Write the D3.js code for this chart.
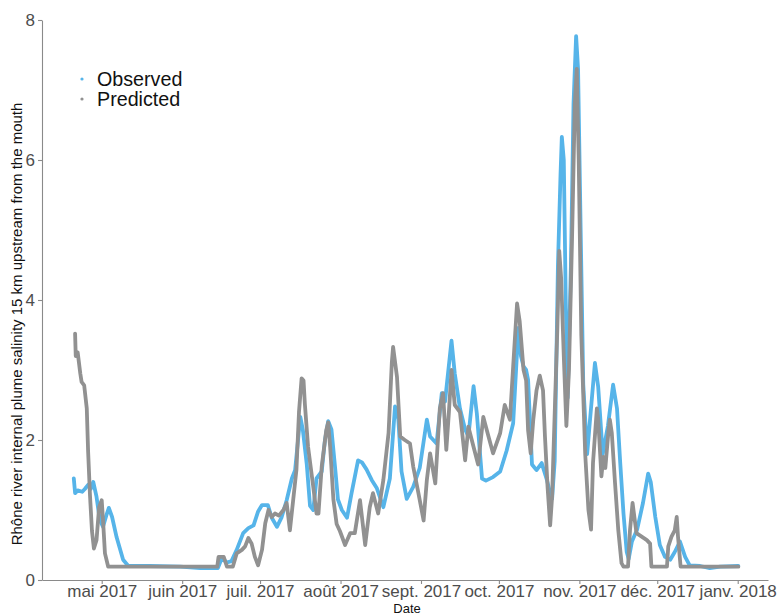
<!DOCTYPE html>
<html><head><meta charset="utf-8">
<script src="https://cdn.jsdelivr.net/npm/d3@7"></script>
<style>body{margin:0;background:#fff}svg{display:block}</style>
</head><body>
<svg id="c" width="777" height="615"></svg>
<script>
// ---- data ----
const obsDates = ["2017-04-20 06","2017-04-20 18","2017-04-21 18","2017-04-23 12","2017-04-24 12","2017-04-25 18","2017-04-26 18","2017-04-27 18","2017-04-29 00","2017-04-30 06",
"2017-05-01 12","2017-05-02 18","2017-05-03 18","2017-05-05 00","2017-05-06 18","2017-05-09 06","2017-05-11 06","2017-05-19 12","2017-05-31 06","2017-06-08 00",
"2017-06-14 18","2017-06-16 06","2017-06-18 06","2017-06-20 00","2017-06-22 00","2017-06-24 12","2017-06-26 12","2017-06-28 12","2017-06-30 06","2017-07-01 18",
"2017-07-04 00","2017-07-05 12","2017-07-07 12","2017-07-09 06","2017-07-11 06","2017-07-13 06","2017-07-14 12","2017-07-16 12","2017-07-17 12","2017-07-19 00",
"2017-07-20 06","2017-07-21 12","2017-07-22 18","2017-07-24 18","2017-07-26 00","2017-07-27 06","2017-07-28 12","2017-07-30 00","2017-07-31 00","2017-08-01 12",
"2017-08-03 12","2017-08-05 06","2017-08-07 18","2017-08-09 06","2017-08-11 00","2017-08-13 00","2017-08-15 00","2017-08-17 12","2017-08-20 00","2017-08-22 00",
"2017-08-23 06","2017-08-24 12","2017-08-26 12","2017-08-29 00","2017-08-31 12","2017-09-03 06","2017-09-04 12","2017-09-07 00","2017-09-09 00","2017-09-10 06",
"2017-09-12 18","2017-09-14 00","2017-09-16 00","2017-09-18 00","2017-09-19 06","2017-09-21 06","2017-09-22 12","2017-09-24 12","2017-09-26 00","2017-09-28 18",
"2017-10-01 12","2017-10-04 00","2017-10-06 12","2017-10-08 12","2017-10-09 12","2017-10-10 12","2017-10-11 12","2017-10-12 06","2017-10-13 18","2017-10-15 12",
"2017-10-17 12","2017-10-19 12","2017-10-20 18","2017-10-21 12","2017-10-22 12","2017-10-23 18","2017-10-24 18","2017-10-25 06","2017-10-26 00","2017-10-26 18",
"2017-10-27 12","2017-10-28 18","2017-10-29 18","2017-10-30 18","2017-10-31 12","2017-11-01 12","2017-11-02 12","2017-11-04 00","2017-11-05 00","2017-11-07 00",
"2017-11-08 06","2017-11-10 00","2017-11-12 00","2017-11-14 00","2017-11-15 12","2017-11-16 18","2017-11-18 00","2017-11-19 06","2017-11-20 00","2017-11-21 06",
"2017-11-23 06","2017-11-25 12","2017-11-27 12","2017-11-28 12","2017-11-30 06","2017-12-02 00","2017-12-04 00","2017-12-06 00","2017-12-07 18","2017-12-09 18",
"2017-12-11 18","2017-12-13 12","2017-12-17 12","2017-12-21 06","2017-12-25 06","2018-01-01 06"];
const obsValues = [1.45,1.24,1.28,1.26,1.30,1.36,1.30,1.40,1.19,0.86,
0.76,0.92,1.03,0.90,0.61,0.29,0.20,0.20,0.19,0.17,
0.17,0.31,0.25,0.27,0.43,0.67,0.74,0.78,0.98,1.07,
1.07,0.89,0.76,0.89,1.14,1.45,1.57,2.33,2.14,1.65,
1.06,1.00,1.45,1.55,2.00,2.27,2.15,1.57,1.15,1.00,
0.89,1.24,1.71,1.68,1.58,1.43,1.31,1.04,1.45,2.48,
2.30,1.55,1.16,1.33,1.60,2.29,2.05,1.95,2.67,2.55,
3.42,2.95,2.45,2.15,2.05,2.77,2.38,1.45,1.42,1.47,
1.55,1.85,2.24,3.60,3.20,3.05,3.00,2.86,1.65,1.57,
1.67,1.43,1.24,1.16,1.70,4.50,5.80,6.33,6.00,4.00,
2.60,4.50,6.80,7.77,7.30,5.00,2.80,1.80,2.24,3.10,
2.76,1.80,2.20,2.79,2.45,1.67,0.95,0.40,0.30,0.55,
0.72,1.10,1.52,1.40,0.90,0.50,0.33,0.29,0.40,0.55,
0.33,0.21,0.20,0.17,0.19,0.20];

const predDates = ["2017-04-20 18","2017-04-21 00","2017-04-21 18","2017-04-22 18","2017-04-23 06","2017-04-24 06","2017-04-25 06","2017-04-25 18","2017-04-26 12","2017-04-27 06",
"2017-04-28 00","2017-04-29 00","2017-04-30 00","2017-05-01 00","2017-05-01 12","2017-05-02 06","2017-05-03 12","2017-05-19 12","2017-06-14 12","2017-06-15 00",
"2017-06-17 00","2017-06-18 06","2017-06-20 12","2017-06-22 00","2017-06-24 00","2017-06-25 06","2017-06-26 12","2017-06-27 18","2017-06-29 00","2017-06-30 06",
"2017-07-01 18","2017-07-03 00","2017-07-04 06","2017-07-05 12","2017-07-06 18","2017-07-08 06","2017-07-10 00","2017-07-11 06","2017-07-12 12","2017-07-13 18",
"2017-07-15 00","2017-07-16 00","2017-07-17 00","2017-07-17 18","2017-07-18 06","2017-07-19 12","2017-07-21 12","2017-07-22 18","2017-07-23 12","2017-07-24 18",
"2017-07-26 12","2017-07-27 06","2017-07-28 00","2017-07-29 06","2017-07-30 12","2017-07-31 18","2017-08-02 18","2017-08-04 18","2017-08-06 12","2017-08-08 12",
"2017-08-10 12","2017-08-12 06","2017-08-13 12","2017-08-15 12","2017-08-17 12","2017-08-19 12","2017-08-20 18","2017-08-21 06","2017-08-22 18","2017-08-24 00",
"2017-08-25 18","2017-08-27 18","2017-08-29 00","2017-08-31 00","2017-09-02 00","2017-09-03 06","2017-09-04 12","2017-09-06 12","2017-09-08 06","2017-09-09 12",
"2017-09-10 18","2017-09-11 18","2017-09-12 18","2017-09-14 00","2017-09-16 00","2017-09-18 00","2017-09-19 06","2017-09-21 06","2017-09-23 00","2017-09-25 00",
"2017-09-27 00","2017-09-28 18","2017-10-01 12","2017-10-03 06","2017-10-05 06","2017-10-06 12","2017-10-08 00","2017-10-09 00","2017-10-10 12","2017-10-11 12",
"2017-10-12 06","2017-10-13 06","2017-10-14 06","2017-10-15 12","2017-10-16 18","2017-10-18 00","2017-10-18 18","2017-10-19 18","2017-10-20 18","2017-10-21 12",
"2017-10-22 12","2017-10-23 12","2017-10-24 06","2017-10-25 00","2017-10-26 00","2017-10-27 00","2017-10-28 00","2017-10-29 06","2017-10-30 06","2017-10-31 00",
"2017-10-31 18","2017-11-01 18","2017-11-03 06","2017-11-04 12","2017-11-05 12","2017-11-06 06","2017-11-07 18","2017-11-08 06","2017-11-09 12","2017-11-10 06",
"2017-11-11 00","2017-11-12 06","2017-11-12 18","2017-11-13 12","2017-11-14 18","2017-11-16 00","2017-11-17 06","2017-11-18 00","2017-11-19 18","2017-11-20 12",
"2017-11-21 12","2017-11-22 12","2017-11-23 00","2017-11-25 00","2017-11-27 00","2017-11-28 06","2017-11-28 18","2017-12-04 18","2017-12-05 06","2017-12-06 12",
"2017-12-07 18","2017-12-08 12","2017-12-09 00","2017-12-10 00","2018-01-01 06"];
const predValues = [3.52,3.20,3.25,2.95,2.83,2.78,2.45,1.85,1.20,0.70,
0.45,0.57,1.04,1.14,0.86,0.38,0.19,0.19,0.19,0.33,
0.33,0.19,0.19,0.38,0.43,0.48,0.60,0.52,0.33,0.21,
0.43,0.81,1.00,0.90,0.95,0.92,1.00,1.10,0.71,1.14,
1.57,2.40,2.88,2.85,2.52,1.90,1.33,0.95,0.95,1.62,
2.14,2.25,1.90,1.15,0.80,0.70,0.50,0.67,0.67,1.14,
0.50,1.04,1.24,0.95,1.43,2.10,3.10,3.33,2.90,2.05,
2.00,1.95,1.62,1.24,0.85,1.43,1.81,1.38,2.45,2.67,
1.86,2.40,3.00,2.50,2.40,1.71,2.19,1.90,1.65,2.33,
2.05,1.81,2.10,2.50,2.29,3.05,3.95,3.70,3.00,2.85,
2.14,1.81,2.29,2.71,2.92,2.71,2.05,1.33,0.78,1.19,
2.38,3.57,4.70,4.30,3.20,2.20,3.00,5.00,6.80,7.30,
6.00,3.50,1.80,1.00,0.72,1.67,2.45,2.30,1.48,1.76,
1.60,2.14,2.29,2.10,1.38,0.71,0.24,0.19,0.19,0.71,
1.10,0.81,0.67,0.62,0.57,0.52,0.19,0.19,0.48,0.62,
0.71,0.90,0.62,0.19,0.19];

const seriesNames = ["Observed","Predicted"];
const seriesColors = ["#56b4e9","#919191"];
const xTickDates = ["2017-05-01","2017-06-01","2017-07-01","2017-08-01","2017-09-01","2017-10-01","2017-11-01","2017-12-01","2018-01-01"];
const xTickLabels = ["mai 2017","juin 2017","juil. 2017","août 2017","sept. 2017","oct. 2017","nov. 2017","déc. 2017","janv. 2018"];
const yTicks = [0,2,4,6,8];

// ---- drawing ----
const parseT = d3.timeParse("%Y-%m-%d %H");
const parseD = d3.timeParse("%Y-%m-%d");
const svg = d3.select("#c");
const font = "'Liberation Sans', Arial, sans-serif";

const x = d3.scaleTime()
  .domain([parseT("2017-04-08 00"), parseT("2018-01-12 16")])
  .range([42, 768]);
const y = d3.scaleLinear().domain([0, 8]).range([580, 20]);

const series = [
  obsDates.map((d,i)=>({t:parseT(d), v:obsValues[i]})),
  predDates.map((d,i)=>({t:parseT(d), v:predValues[i]}))
];

const line = d3.line().x(d=>x(d.t)).y(d=>y(d.v)).curve(d3.curveLinear);
series.forEach((s,i)=>{
  svg.append("path").datum(s)
    .attr("d", line)
    .attr("fill","none")
    .attr("stroke", seriesColors[i])
    .attr("stroke-width", 3.8)
    .attr("stroke-linejoin","round")
    .attr("stroke-linecap","round");
});

// axes
const xAxis = d3.axisBottom(x)
  .tickValues(xTickDates.map(parseD))
  .tickFormat((d,i)=>xTickLabels[i])
  .tickSize(4).tickPadding(1).tickSizeOuter(0);
const gx = svg.append("g").attr("transform","translate(0,580)").call(xAxis);
const yAxis = d3.axisLeft(y).tickValues(yTicks).tickSize(4).tickPadding(3).tickSizeOuter(0);
const gy = svg.append("g").attr("transform","translate(42,0)").call(yAxis);
[gx,gy].forEach(g=>{
  g.select(".domain").attr("stroke","#8a8a8a").attr("stroke-width",1.1);
  g.selectAll(".tick line").attr("stroke","#8a8a8a").attr("stroke-width",1.1);
  g.selectAll(".tick text").attr("fill","#4d4d4d").style("font-family",font).style("font-size","17px");
});

// titles
svg.append("text").attr("x",407).attr("y",613).attr("text-anchor","middle")
  .style("font-family",font).style("font-size","13px").attr("fill","#111").text("Date");
svg.append("text").attr("transform","translate(22,324) rotate(-90)").attr("text-anchor","middle")
  .style("font-family",font).style("font-size","15px").attr("fill","#111")
  .text("Rhône river internal plume salinity 15 km upstream from the mouth");

// legend
seriesNames.forEach((n,i)=>{
  const yy = 79 + i*20;
  svg.append("circle").attr("cx",82).attr("cy",yy).attr("r",1.6).attr("fill",seriesColors[i]);
  svg.append("text").attr("x",97).attr("y",yy+7).style("font-family",font).style("font-size","19.7px")
    .attr("fill","#111").text(n);
});
</script>
</body></html>
